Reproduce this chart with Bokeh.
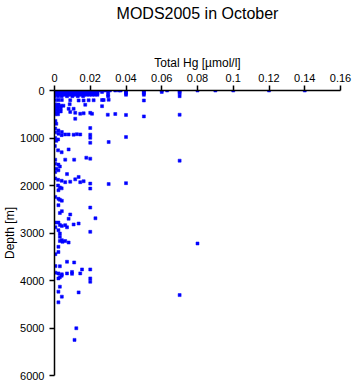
from bokeh.plotting import figure
from bokeh.models import Range1d, FixedTicker, LinearAxis, Title
from bokeh.embed import file_html
from bokeh.resources import INLINE

title_text = "MODS2005 in October"
x_label = "Total Hg [µmol/l]"
y_label = "Depth [m]"

x_ticks = [0, 0.02, 0.04, 0.06, 0.08, 0.1, 0.12, 0.14, 0.16]
x_tick_labels = ["0", "0.02", "0.04", "0.06", "0.08", "0.1", "0.12", "0.14", "0.16"]
y_ticks = [0, 1000, 2000, 3000, 4000, 5000, 6000]

# near-surface samples (depth m, Total Hg umol/l)
surface_hg = [
    0.000, 0.0015, 0.003, 0.0045, 0.006, 0.0075, 0.009, 0.0105, 0.012, 0.0135, 0.015, 0.0165,
    0.018, 0.0195, 0.021, 0.0225, 0.024, 0.0255, 0.027, 0.0285, 0.030, 0.031, 0.034, 0.036,
    0.037, 0.040, 0.050, 0.060, 0.063, 0.070, 0.080, 0.090, 0.100, 0.120, 0.140,
    0.000, 0.0015, 0.003, 0.0045, 0.006, 0.0075, 0.009, 0.0105, 0.012, 0.0135, 0.015, 0.0165,
    0.018, 0.0195, 0.021, 0.0225, 0.024, 0.0266, 0.030, 0.040, 0.050, 0.060, 0.070,
    0.000, 0.0015, 0.003, 0.0045, 0.006, 0.0075, 0.009, 0.0105, 0.012, 0.0135, 0.015, 0.0165,
    0.018, 0.0195, 0.021, 0.0225, 0.024, 0.040, 0.050, 0.070,
    0.000, 0.0015, 0.003, 0.0045, 0.006, 0.0075, 0.009, 0.0105, 0.012, 0.0135, 0.015, 0.0165,
    0.018, 0.0195, 0.021, 0.0225, 0.024, 0.030, 0.040, 0.050,
    0.000, 0.002, 0.004, 0.007, 0.010, 0.013, 0.016, 0.030, 0.070,
]
surface_depth = (
    [0] * 35 + [30] * 23 + [60] * 20 + [90] * 20 + [120] * 9
)

deep_depth = [
    200, 200, 200, 205, 210, 210, 205, 205, 200, 200, 195, 210,
    290, 295, 290, 330, 300,
    320, 320, 320, 320, 380, 380, 380, 385, 385, 440, 440, 440, 450, 470, 490, 480, 470, 490,
    500, 500, 510, 495, 515, 545, 510,
    595, 640, 700, 800, 840, 875, 790, 930,
    880, 910, 940, 925, 925, 930, 920, 925, 995, 1100, 1085, 980, 1000, 1030, 1060, 1170,
    1260, 1300, 1240,
    1456, 1456, 1456, 1415, 1435, 1477,
    1540, 1560, 1600, 1645, 1680, 1715, 1760,
    1850, 1880, 1900, 1930, 1920, 1870, 1820, 1910, 1930, 1960, 2065, 1970, 1950, 2000, 2040,
    2060, 2100, 2240, 2280, 2300, 2320, 2415, 2465, 2540, 2580, 2610, 2700, 2690,
    2780, 2780, 2835, 2850, 2830, 2880, 2820, 2800, 2880, 2940, 3010, 2975, 3080, 3150, 3185,
    3200, 3221,
    3170, 3170, 3290, 3400, 3445,
    3605, 3620, 3697, 3700, 3767, 3767, 3835, 3850, 3870, 3850, 3820, 3860, 3850, 3956, 4026,
    3956, 3930, 3900,
    4130, 4235, 4250, 4340, 4307, 4460, 5005, 5250,
]
deep_hg = [
    0.0004, 0.0022, 0.0041, 0.0088, 0.0135, 0.0163, 0.0191, 0.0219, 0.0266, 0.0275, 0.0303, 0.050,
    0.0004, 0.0022, 0.0085, 0.0266, 0.0172,
    0.0005, 0.002, 0.0035, 0.005, 0.0005, 0.002, 0.0035, 0.0079, 0.0107, 0.0005, 0.002, 0.0035,
    0.0088, 0.0116, 0.0144, 0.0163, 0.020, 0.021,
    0.0005, 0.002, 0.0298, 0.034, 0.040, 0.050, 0.070,
    0.0116, 0.0005, 0.001, 0.0004, 0.0022, 0.0041, 0.020, 0.020,
    0.0004, 0.0022, 0.004, 0.006, 0.0079, 0.0107, 0.0125, 0.0144, 0.020, 0.020, 0.0303, 0.040,
    0.0004, 0.002, 0.001, 0.0002,
    0.002, 0.004, 0.0079,
    0.0004, 0.006, 0.011, 0.0178, 0.020, 0.070,
    0.0004, 0.0022, 0.003, 0.001, 0.0022, 0.0004, 0.007,
    0.0004, 0.002, 0.004, 0.006, 0.0088, 0.0116, 0.0135, 0.0163, 0.0144, 0.020, 0.020, 0.0303,
    0.040, 0.002, 0.003,
    0.004, 0.0022, 0.0004, 0.0022, 0.003, 0.0041, 0.0022, 0.020, 0.0041, 0.003, 0.0088, 0.0079,
    0.0229,
    0.0005, 0.0022, 0.006, 0.0041, 0.003, 0.007, 0.0107, 0.0135, 0.0005, 0.0022, 0.003, 0.020,
    0.003, 0.0041, 0.0045,
    0.0079, 0.080,
    0.003, 0.006, 0.0022, 0.0022, 0.0005,
    0.007, 0.011, 0.0005, 0.003, 0.0154, 0.020, 0.0005, 0.0022, 0.0041, 0.007, 0.0098, 0.0098,
    0.0144, 0.020, 0.020,
    0.0022, 0.003, 0.004,
    0.003, 0.0022, 0.0135, 0.0041, 0.070, 0.0022, 0.0122, 0.0112,
]

FONT = "Liberation Sans"

p = figure(
    width=353, height=384,
    output_backend="svg", toolbar_location=None,
    x_range=Range1d(0, 0.16), y_range=Range1d(6000, 0),
    x_axis_location=None, y_axis_location=None,
    min_border_left=54, min_border_right=13, min_border_top=90, min_border_bottom=9,
    outline_line_color=None,
    title=title_text,
)
p.background_fill_color = "white"
p.border_fill_color = "white"
p.xgrid.visible = False
p.ygrid.visible = False

p.title.align = "center"
p.title.text_font = FONT
p.title.text_font_size = "16px"
p.title.text_font_style = "normal"
p.title.text_color = "black"
p.title.standoff = 2

xaxis = LinearAxis(
    ticker=FixedTicker(ticks=x_ticks),
    axis_label=x_label,
    major_label_overrides={t: l for t, l in zip(x_ticks, x_tick_labels)},
)
yaxis = LinearAxis(ticker=FixedTicker(ticks=y_ticks), axis_label=y_label)
for ax in (xaxis, yaxis):
    ax.axis_line_width = 1.5
    ax.axis_line_color = "black"
    ax.major_tick_line_width = 1.5
    ax.major_tick_in = 0
    ax.major_tick_out = 5
    ax.minor_tick_out = 0
    ax.minor_tick_in = 0
    ax.major_label_text_font = FONT
    ax.major_label_text_font_size = "11px"
    ax.major_label_text_color = "black"
    ax.axis_label_text_font = FONT
    ax.axis_label_text_font_size = "12px"
    ax.axis_label_text_font_style = "normal"
    ax.axis_label_text_color = "black"
xaxis.major_label_standoff = 4
xaxis.axis_label_standoff = 1
yaxis.major_label_standoff = 5
yaxis.axis_label_standoff = 0
p.add_layout(xaxis, "above")
p.add_layout(yaxis, "left")
# empty spacer between the axis label and the title
p.add_layout(Title(text=" ", text_font_size="10px", standoff=17), "above")

p.scatter(surface_hg, surface_depth, marker="square", size=3,
          fill_color="#0000ff", line_color="#0000ff", line_width=0.5)
p.scatter(deep_hg, deep_depth, marker="square", size=3,
          fill_color="#0000ff", line_color="#0000ff", line_width=0.5)

open("out.html", "w").write(file_html(p, INLINE))
